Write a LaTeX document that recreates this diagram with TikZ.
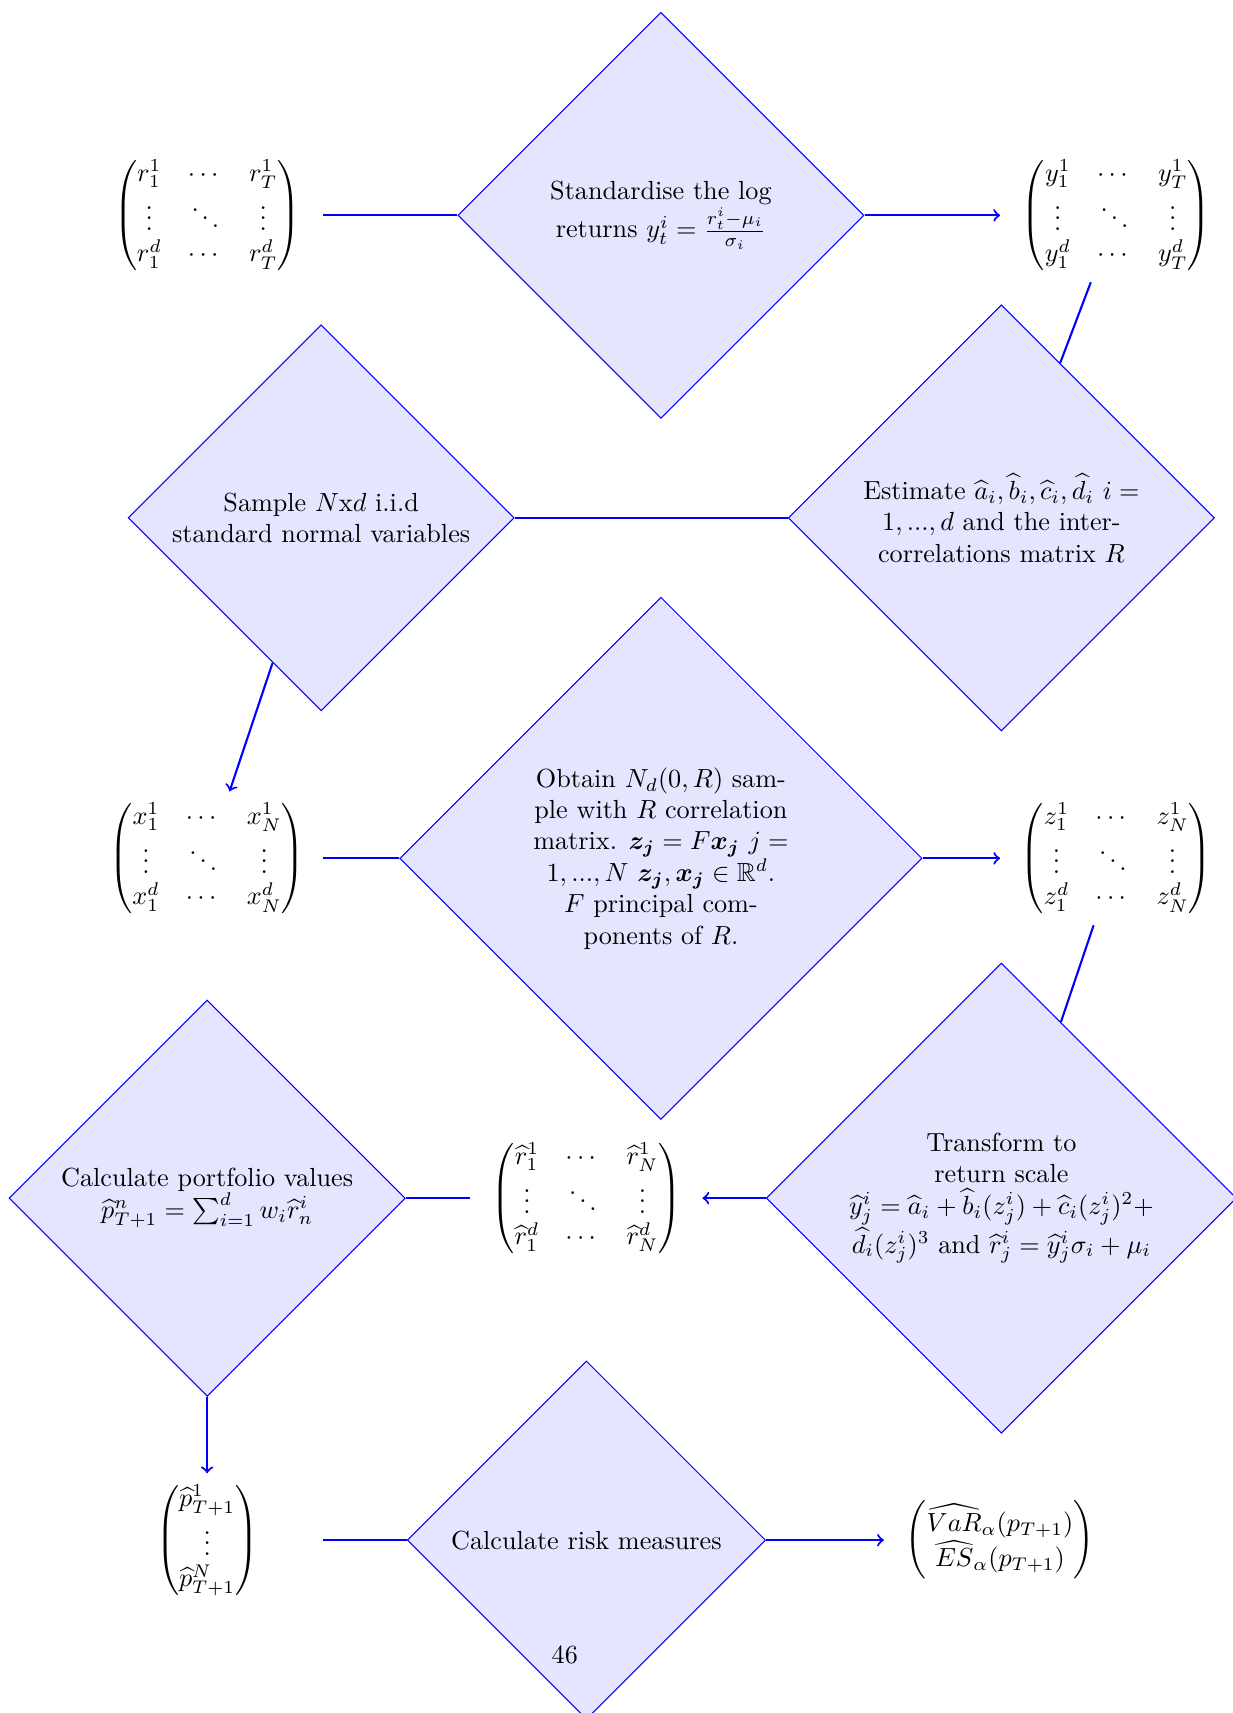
\documentclass[tikz,border=0pt]{standalone}
\usepackage{amsmath,amssymb}
\usetikzlibrary{shapes.geometric}

\begin{document}
\begin{tikzpicture}
    \tikzset{decision/.style={diamond, aspect=1, draw=blue, fill=blue!10, align=center, inner sep=1pt},
             mat node/.style={minimum width=3.1cm, inner sep=4pt},
             link/.style={draw=blue, thick},
             arrow/.style={draw=blue, thick, ->}}
    \useasboundingbox (0,0) rectangle (16.54,-22.99);

    % Row 1 - log returns, standardisation
    \node[mat node] (rmat) at (2.78,-2.89) {$\begin{pmatrix} r^1_1 & \cdots & r^1_T \\ \vdots & \ddots & \vdots \\ r^d_1 & \cdots & r^d_T \end{pmatrix}$};
    \node[decision, minimum size=5.45cm] (std) at (8.87,-2.89) {Standardise the log\\returns $y^i_t = \frac{r^i_t-\mu_i}{\sigma_i}$};
    \node[mat node] (ymat) at (14.98,-2.89) {$\begin{pmatrix} y^1_1 & \cdots & y^1_T \\ \vdots & \ddots & \vdots \\ y^d_1 & \cdots & y^d_T \end{pmatrix}$};

    % Row 2 - estimation and sampling
    \node[decision, minimum size=5.18cm] (smp) at (4.31,-6.95) {Sample $N$x$d$ i.i.d\\standard normal variables};
    \node[decision, minimum size=5.72cm] (est) at (13.44,-6.95) {Estimate $\widehat{a}_i, \widehat{b}_i, \widehat{c}_i, \widehat{d}_i$ $i =$\\$1, ..., d$ and the inter-\\correlations matrix $R$};

    % Row 3 - correlated sample
    \node[mat node] (xmat) at (2.78,-11.52) {$\begin{pmatrix} x^1_1 & \cdots & x^1_N \\ \vdots & \ddots & \vdots \\ x^d_1 & \cdots & x^d_N \end{pmatrix}$};
    \node[decision, minimum size=7.01cm] (obt) at (8.87,-11.52) {Obtain $N_d(0,R)$ sam-\\ple with $R$ correlation\\matrix. $\boldsymbol{z_j} = F\boldsymbol{x_j}$ $j =$\\$1, ..., N$ $\boldsymbol{z_j}, \boldsymbol{x_j} \in \mathbb{R}^d$.\\$F$ principal com-\\ponents of $R$.};
    \node[mat node] (zmat) at (14.98,-11.52) {$\begin{pmatrix} z^1_1 & \cdots & z^1_N \\ \vdots & \ddots & \vdots \\ z^d_1 & \cdots & z^d_N \end{pmatrix}$};

    % Row 4 - back to return scale, portfolio values
    \node[decision, minimum size=5.32cm] (pfv) at (2.78,-16.08) {Calculate portfolio values\\$\widehat{p}^n_{T+1} = \sum_{i=1}^d w_i\widehat{r}^i_n$};
    \node[mat node] (rhat) at (7.87,-16.08) {$\begin{pmatrix} \widehat{r}^1_1 & \cdots & \widehat{r}^1_N \\ \vdots & \ddots & \vdots \\ \widehat{r}^d_1 & \cdots & \widehat{r}^d_N \end{pmatrix}$};
    \node[decision, minimum size=6.31cm] (trf) at (13.44,-16.08) {Transform to\\return scale\\$\widehat{y}^i_j = \widehat{a}_i + \widehat{b}_i(z^i_j) + \widehat{c}_i(z^i_j)^2 +$\\$\widehat{d}_i(z^i_j)^3$ and $\widehat{r}^i_j = \widehat{y}^i_j\sigma_i + \mu_i$};

    % Row 5 - risk measures
    \node[mat node] (pmat) at (2.78,-20.67) {$\begin{pmatrix} \widehat{p}^1_{T+1} \\ \vdots \\ \widehat{p}^N_{T+1} \end{pmatrix}$};
    \node[decision, minimum size=4.81cm] (risk) at (7.87,-20.67) {Calculate risk measures};
    \node[mat node] (varmat) at (13.42,-20.67) {$\begin{pmatrix} \widehat{VaR}_\alpha(p_{T+1}) \\ \widehat{ES}_\alpha(p_{T+1}) \end{pmatrix}$};

    % Page number
    \node (pagenum) at (7.58,-22.21) {46};

    % Connectors
    \draw[link] (rmat) -- (std);
    \draw[arrow] (std) -- (ymat);
    \draw[link] (ymat) -- (est);
    \draw[link] (est) -- (smp);
    \draw[arrow] (smp) -- (xmat);
    \draw[link] (xmat) -- (obt);
    \draw[arrow] (obt) -- (zmat);
    \draw[link] (zmat) -- (trf);
    \draw[arrow] (trf) -- (rhat);
    \draw[link] (rhat) -- (pfv);
    \draw[arrow] (pfv) -- (pmat);
    \draw[link] (pmat) -- (risk);
    \draw[arrow] (risk) -- (varmat);

\end{tikzpicture}
\end{document}
